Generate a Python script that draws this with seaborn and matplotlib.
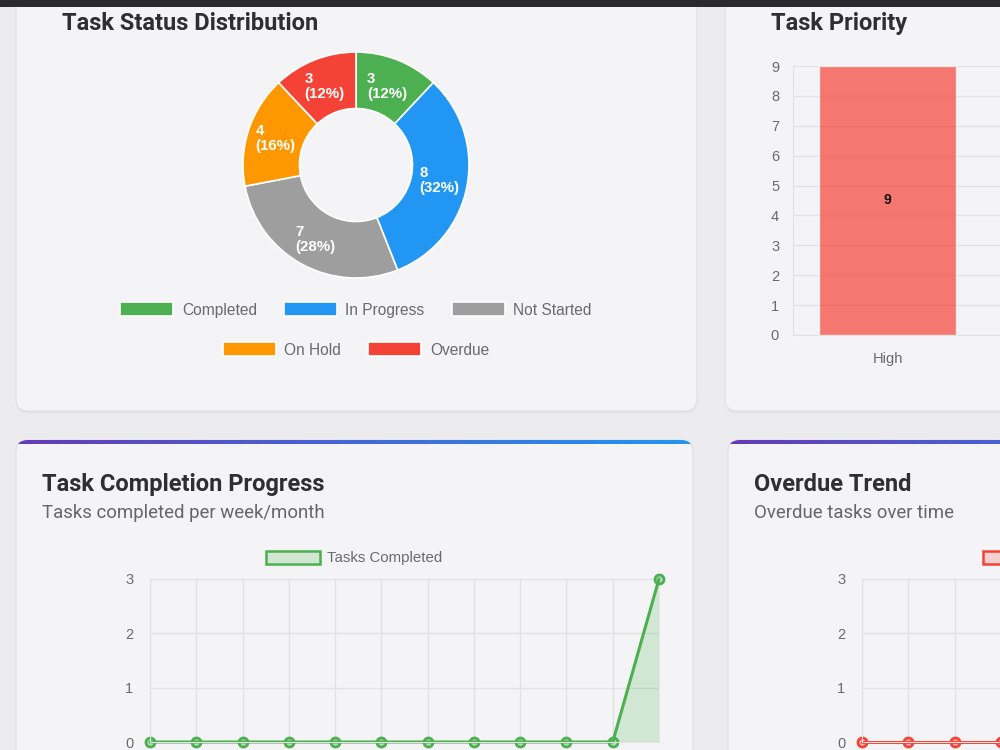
"""Task dashboard: status donut, priority bars, completion and overdue trends."""

import matplotlib

matplotlib.use("Agg")

import matplotlib.pyplot as plt
import numpy as np
import seaborn as sns
from matplotlib.patches import FancyBboxPatch, Patch, Rectangle

# --- data -----------------------------------------------------------------
status_labels = ["Completed", "In Progress", "Not Started", "On Hold", "Overdue"]
status_counts = [3, 8, 7, 4, 3]
status_colors = ["#4caf50", "#2196f3", "#9e9e9e", "#ff9800", "#f44336"]

priority_labels = ["High"]
priority_counts = [9]

period_index = list(range(12))
completed_per_period = [0, 0, 0, 0, 0, 0, 0, 0, 0, 0, 0, 3]
overdue_per_period = [0, 0, 0, 0, 0, 0, 0, 0, 0, 0, 0, 0]

PAGE_BG = "#ececef"
CARD_BG = "#f4f4f6"
GRID = "#e2e2e4"
TICK_TXT = "#6a6a6a"
GREEN = "#4caf50"
RED = "#f44336"

sns.set_style("white")
plt.rcParams["font.family"] = ["Liberation Sans", "DejaVu Sans"]

W, H = 1000, 750
fig = plt.figure(figsize=(10, 7.5), dpi=100, facecolor=PAGE_BG)


def px_axes(left, top, right, bottom, **kw):
    return fig.add_axes([left / W, 1 - bottom / H, (right - left) / W, (bottom - top) / H], **kw)


# background layer in pixel coordinates
bg = px_axes(0, 0, W, H, zorder=-10)
bg.set_xlim(0, W)
bg.set_ylim(H, 0)
bg.set_facecolor(PAGE_BG)
bg.axis("off")


def card(x0, y0, x1, y1, stripe=False):
    for off, a in [(2.5, 0.025), (1.2, 0.04)]:
        bg.add_patch(FancyBboxPatch((x0, y0 + off), x1 - x0, y1 - y0,
                                    boxstyle="round,pad=0,rounding_size=12",
                                    fc="black", ec="none", alpha=a, zorder=1))
    p = FancyBboxPatch((x0, y0), x1 - x0, y1 - y0, boxstyle="round,pad=0,rounding_size=12",
                       fc=CARD_BG, ec="#e3e3e7", lw=1, zorder=2)
    bg.add_patch(p)
    if stripe:
        grad = np.linspace(0, 1, 256).reshape(1, -1)
        cmap = matplotlib.colors.LinearSegmentedColormap.from_list("hdr", ["#673ab7", "#2196f3"])
        im = bg.imshow(grad, cmap=cmap, extent=[x0, x1, y0 + 4.5, y0], aspect="auto", zorder=3)
        im.set_clip_path(p)
    return p


card(16, -30, 697, 411)
card(725, -30, 1040, 411)
card(16, 440, 693, 790, stripe=True)
card(728, 440, 1340, 790, stripe=True)
bg.set_xlim(0, W)
bg.set_ylim(H, 0)
bg.add_patch(Rectangle((0, 0), W, 7, fc="#2b2b2d", ec="none", zorder=5))

title_kw = dict(fontfamily="Roboto", fontweight="bold", fontsize=17, color="#2f2f33", zorder=6)
sub_kw = dict(fontfamily="Roboto", fontsize=13.4, color="#666666", zorder=6)
bg.text(62, 30, "Task Status Distribution", va="baseline", **title_kw)
bg.text(771, 30, "Task Priority", va="baseline", **title_kw)
bg.text(42, 491, "Task Completion Progress", va="baseline", **title_kw)
bg.text(42, 518, "Tasks completed per week/month", va="baseline", **sub_kw)
bg.text(754, 491, "Overdue Trend", va="baseline", **title_kw)
bg.text(754, 518, "Overdue tasks over time", va="baseline", **sub_kw)

# --- donut ------------------------------------------------------------------
total = sum(status_counts)
ax_d = px_axes(243, 52, 469, 278)
wedges, _, autotexts = ax_d.pie(
    status_counts, colors=status_colors, startangle=90, counterclock=False, radius=1,
    wedgeprops=dict(width=0.5, edgecolor="white", linewidth=1.2),
    autopct=lambda p: f"{round(p * total / 100)}\n({p:.0f}%)", pctdistance=0.75,
    textprops=dict(color="white", fontweight="bold", fontsize=10.8),
)
for t in autotexts:
    t.set_multialignment("left")
    t.set_linespacing(1.1)
ax_d.set_xlim(-1, 1)
ax_d.set_ylim(-1, 1)

leg_kw = dict(frameon=False, fontsize=11.2, labelcolor=TICK_TXT, handlelength=3.4, handleheight=1.0,
              handletextpad=0.55, columnspacing=1.75, borderpad=0, borderaxespad=0, loc="center")
fig.legend(wedges[:3], status_labels[:3], ncol=3, bbox_to_anchor=(356 / W, 1 - 310 / H), **leg_kw)
fig.legend(wedges[3:], status_labels[3:], ncol=2, bbox_to_anchor=(356 / W, 1 - 350 / H), **leg_kw)

# --- priority bars ----------------------------------------------------------
ax_b = px_axes(793, 66, 793 + 378, 335)
ax_b.set_facecolor("none")
sns.barplot(x=priority_labels, y=priority_counts, ax=ax_b, color=RED, alpha=0.7,
            saturation=1, width=0.72, errorbar=None)
ax_b.bar_label(ax_b.containers[0], label_type="center", fontweight="bold", fontsize=10, color="#111111")
ax_b.set_xlim(-0.5, 1.5)
ax_b.set_ylim(0, 9)
ax_b.set_yticks(range(10))
ax_b.set_xlabel("")
ax_b.set_ylabel("")
ax_b.grid(axis="y", color=GRID, lw=1)
ax_b.set_axisbelow(True)
for s in ["top", "right"]:
    ax_b.spines[s].set_visible(False)
for s in ["left", "bottom"]:
    ax_b.spines[s].set_color(GRID)
ax_b.tick_params(axis="y", length=6, color=GRID, labelcolor=TICK_TXT, labelsize=10.5, pad=4)
ax_b.tick_params(axis="x", length=0, labelcolor=TICK_TXT, labelsize=10.5, pad=12)


# --- trend lines ------------------------------------------------------------
def trend(ax, values, color, label, legend_anchor, legend_loc):
    ax.set_facecolor("none")
    ax.fill_between(period_index, values, 0, color=color, alpha=0.2, lw=0)
    sns.lineplot(x=period_index, y=values, ax=ax, color=color, lw=2.2, marker="o", markersize=6.5,
                 markerfacecolor=color + "55", markeredgecolor=color, markeredgewidth=2)
    ax.lines[-1].set_clip_on(False)
    ax.set_xlim(0, 11)
    ax.set_ylim(0, 3)
    ax.set_yticks([0, 1, 2, 3])
    ax.set_xticks(period_index)
    ax.grid(True, color=GRID, lw=1)
    ax.set_axisbelow(True)
    for s in ["top", "right"]:
        ax.spines[s].set_visible(False)
    for s in ["left", "bottom"]:
        ax.spines[s].set_color(GRID)
    ax.tick_params(axis="y", length=7, color=GRID, labelcolor=TICK_TXT, labelsize=10.5, pad=5)
    ax.tick_params(axis="x", length=0, labelbottom=False)
    ax.set_xlabel("")
    ax.set_ylabel("")
    handle = Patch(facecolor=matplotlib.colors.to_rgba(color, 0.2), edgecolor=color, lw=1.8)
    fig.legend([handle], [label], frameon=False, fontsize=10.8, labelcolor=TICK_TXT,
               handlelength=3.6, handleheight=1.0, handletextpad=0.5, borderpad=0,
               borderaxespad=0, loc=legend_loc, bbox_to_anchor=legend_anchor)


ax_c = px_axes(150, 579, 659, 742)
trend(ax_c, completed_per_period, GREEN, "Tasks Completed", (354 / W, 1 - 558 / H), "center")
ax_o = px_axes(862, 579, 862 + 509, 742)
# the overdue legend's label lies past the screenshot's right edge, only its box shows
trend(ax_o, overdue_per_period, RED, "", (983 / W, 1 - 558 / H), "center left")

fig.savefig("out.png", dpi=100, facecolor=PAGE_BG)
